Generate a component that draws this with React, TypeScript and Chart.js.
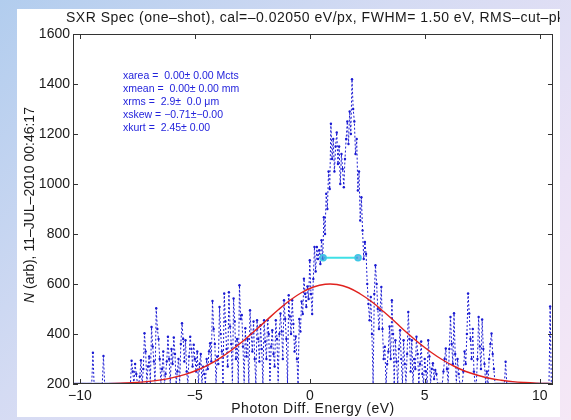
import React, { useEffect, useRef } from "react";
import { Chart, registerables } from "chart.js";

Chart.register(...registerables);

// ---------- data ----------
const X_START = -10.25; // eV of first spectrum sample
const X_STEP = 0.051; // eV per sample

// N (arb) per sample (one row ~ 1 eV)
const SPECTRUM: number[] = [
  200, 200, 200, 200,
  200, 200, 200, 200, 200, 200, 200, 200, 200, 200, 200, 200, 325, 200, 200, 200, 200, 200, 200, 200,
  200, 312, 200, 200, 200, 200, 200, 200, 200, 200, 200, 200, 200, 200, 200, 200, 200, 200, 200, 200,
  200, 200, 200, 200, 200, 293, 250, 200, 280, 240, 200, 200, 230, 295, 200, 260, 403, 330, 200, 270,
  310, 200, 428, 350, 290, 200, 503, 420, 380, 300, 200, 260, 330, 200, 240, 290, 389, 300, 200, 340,
  280, 386, 320, 200, 250, 300, 200, 360, 443, 380, 290, 375, 250, 200, 310, 389, 340, 270, 357, 300,
  250, 330, 200, 280, 320, 200, 269, 240, 200, 300, 260, 330, 363, 290, 532, 420, 360, 200, 310, 280,
  508, 400, 330, 200, 562, 450, 340, 270, 567, 430, 360, 200, 542, 450, 300, 380, 200, 595, 460, 476,
  350, 200, 423, 310, 380, 200, 495, 400, 330, 450, 300, 200, 455, 380, 290, 435, 340, 200, 455, 370,
  300, 455, 400, 200, 350, 415, 320, 270, 455, 380, 200, 400, 482, 410, 300, 535, 460, 380, 200, 555,
  470, 400, 535, 440, 330, 390, 300, 200, 460, 410, 530, 480, 621, 560, 508, 590, 540, 695, 560, 480,
  620, 748, 650, 748, 700, 735, 680, 775, 700, 867, 800, 961, 900, 1050, 980, 1241, 1100, 1180, 1050, 1150,
  1206, 1080, 1150, 1000, 1120, 1060, 987, 1100, 1180, 1250, 1160, 1290, 1200, 1419, 1300, 1250, 1120, 1180, 974, 1050,
  854, 947, 814, 700, 768, 720, 600, 520, 455, 548, 400, 200, 560, 675, 600, 500, 420, 495, 588, 420,
  300, 349, 200, 280, 330, 430, 300, 535, 400, 200, 375, 290, 200, 340, 415, 300, 200, 375, 280, 200,
  320, 488, 380, 250, 375, 200, 300, 260, 389, 320, 200, 280, 370, 240, 200, 300, 250, 200, 375, 310,
  200, 260, 283, 220, 256, 240, 200, 200, 200, 200, 200, 250, 300, 342, 260, 200, 340, 468, 360, 280,
  483, 320, 200, 300, 240, 200, 200, 200, 250, 330, 280, 400, 562, 482, 380, 300, 420, 250, 200, 200,
  300, 468, 350, 260, 458, 340, 280, 200, 250, 200, 300, 360, 402, 320, 260, 200, 200, 200, 200, 200,
  200, 200, 200, 200, 289, 200, 200, 200, 200, 200, 200, 200, 200, 200, 200, 200, 200, 200, 200, 200,
  200, 200, 200, 200, 200, 200, 200, 200, 200, 200, 200, 200, 200, 200, 200, 200, 200, 200, 200, 200,
  200, 200, 510, 200, 200, 200, 200, 200, 200, 200, 200,
];

// red fit curve, sampled every FIT_STEP eV
const FIT_START = -10.55;
const FIT_STEP = 0.51;
const FIT: number[] = [
  200.2, 200.3, 200.7, 201.2, 202.2, 203.8, 206.4, 210.4, 216.5, 225.3, 237.5, 254, 275.7, 302.7, 335,
  372, 413, 455, 497, 535, 566, 588, 599, 598, 585, 560, 528, 489, 447, 404, 364, 328, 297, 271, 250,
  235, 223, 215, 209.4, 205.8, 203.4, 202, 201.1,
];

// FWHM marker
const FWHM_X: number[] = [0.58, 2.1];
const FWHM_Y: number[] = [705, 705];

const X_TICKS: number[] = [-10, -5, 0, 5, 10];
const Y_TICKS: number[] = [200, 400, 600, 800, 1000, 1200, 1400, 1600];

const TITLE = "SXR Spec (one\u2013shot), cal=\u20130.02050 eV/px, FWHM= 1.50 eV, RMS\u2013cut\u2013pk";
const X_LABEL = "Photon Diff. Energy (eV)";
const Y_LABEL_ITALIC = "N";
const Y_LABEL_REST = " (arb), 11\u2013JUL\u20132010 00:46:17";
const STATS: string[] = [
  "xarea =  0.00\u00b1 0.00 Mcts",
  "xmean =  0.00\u00b1 0.00 mm",
  "xrms =  2.9\u00b1  0.0 \u03bcm",
  "xskew = \u22120.71\u00b1\u22120.00",
  "xkurt =  2.45\u00b1 0.00",
];

const FONT = '"Liberation Sans", Arial, Helvetica, sans-serif';

const decor = {
  id: "decor",
  afterDatasetsDraw(chart: any) {
    const { ctx, chartArea: a, scales } = chart;
    ctx.save();
    ctx.strokeStyle = "#333";
    ctx.lineWidth = 1;
    ctx.strokeRect(a.left + 0.5, a.top + 0.5, a.right - a.left - 1, a.bottom - a.top - 1);
    const tl = 5;
    ctx.beginPath();
    X_TICKS.forEach((v) => {
      const x = Math.round(scales.x.getPixelForValue(v)) + 0.5;
      ctx.moveTo(x, a.bottom);
      ctx.lineTo(x, a.bottom - tl);
      ctx.moveTo(x, a.top);
      ctx.lineTo(x, a.top + tl);
    });
    Y_TICKS.forEach((v) => {
      const y = Math.round(scales.y.getPixelForValue(v)) + 0.5;
      ctx.moveTo(a.left, y);
      ctx.lineTo(a.left + tl, y);
      ctx.moveTo(a.right, y);
      ctx.lineTo(a.right - tl, y);
    });
    ctx.stroke();

    ctx.fillStyle = "#2424dc";
    ctx.font = `10.5px ${FONT}`;
    ctx.textBaseline = "middle";
    ctx.textAlign = "left";
    STATS.forEach((s, i) => ctx.fillText(s, 123, 76 + 13 * i));
    ctx.restore();
  },
  afterDraw(chart: any) {
    const { ctx } = chart;
    ctx.save();
    ctx.beginPath();
    ctx.rect(17, 9, 543, 408);
    ctx.clip();
    ctx.fillStyle = "#1a1a1a";
    ctx.textBaseline = "middle";
    ctx.textAlign = "left";
    ctx.font = `14px ${FONT}`;
    (ctx as any).letterSpacing = "0.5px";
    ctx.fillText(TITLE, 66, 18);

    ctx.textAlign = "center";
    ctx.fillText(X_LABEL, 313, 409);
    (ctx as any).letterSpacing = "0px";

    ctx.translate(30, 205);
    ctx.rotate(-Math.PI / 2);
    ctx.textAlign = "left";
    ctx.font = `italic 14px ${FONT}`;
    const w1 = ctx.measureText(Y_LABEL_ITALIC).width;
    ctx.font = `14px ${FONT}`;
    const w2 = ctx.measureText(Y_LABEL_REST).width;
    const x0 = -(w1 + w2) / 2;
    ctx.font = `italic 14px ${FONT}`;
    ctx.fillText(Y_LABEL_ITALIC, x0, 0);
    ctx.font = `14px ${FONT}`;
    ctx.fillText(Y_LABEL_REST, x0 + w1, 0);
    ctx.restore();
  },
};

export default function App() {
  const ref = useRef<HTMLCanvasElement>(null);
  useEffect(() => {
    const spectrum = SPECTRUM.map((y, i) => ({ x: X_START + i * X_STEP, y }));
    const fit = FIT.map((y, i) => ({ x: FIT_START + i * FIT_STEP, y }));
    const fwhm = FWHM_X.map((x, i) => ({ x, y: FWHM_Y[i] }));
    const blue = "#1a1ad2";
    const chart = new Chart(ref.current as HTMLCanvasElement, {
      type: "line",
      data: {
        datasets: [
          {
            data: fwhm,
            order: 0,
            borderColor: "#3fe0e6",
            borderWidth: 2,
            pointRadius: 3,
            pointBorderColor: "#3fc8e6",
            pointBackgroundColor: "rgba(60,150,220,0.7)",
            pointBorderWidth: 1.5,
          },
          {
            data: fit,
            order: 1,
            borderColor: "#e0221e",
            borderWidth: 1.4,
            pointRadius: 0,
            tension: 0.4,
          },
          {
            data: spectrum,
            order: 2,
            borderColor: blue,
            borderWidth: 1,
            borderDash: [2, 2],
            pointRadius: 1.2,
            pointBorderWidth: 0,
            pointBackgroundColor: blue,
            tension: 0,
          },
        ],
      } as any,
      options: {
        responsive: false,
        animation: false,
        devicePixelRatio: 1,
        layout: { padding: { left: 0, right: 18, top: 34, bottom: 0 } },
        plugins: { legend: { display: false }, tooltip: { enabled: false }, title: { display: false } },
        scales: {
          x: {
            type: "linear",
            min: -10.3,
            max: 10.58,
            grid: { display: false, drawTicks: false },
            border: { display: false },
            afterBuildTicks: (s: any) => {
              s.ticks = X_TICKS.map((v) => ({ value: v }));
            },
            afterFit: (s: any) => {
              s.height = 36;
            },
            ticks: {
              padding: 4,
              maxRotation: 0,
              autoSkip: false,
              color: "#1a1a1a",
              font: { family: FONT, size: 14 },
              callback: (v: any) => (Number(v) < 0 ? "\u2212" + Math.abs(Number(v)) : String(v)),
            },
          },
          y: {
            type: "linear",
            min: 200,
            max: 1600,
            grid: { display: false, drawTicks: false },
            border: { display: false },
            afterBuildTicks: (s: any) => {
              s.ticks = Y_TICKS.map((v) => ({ value: v }));
            },
            afterFit: (s: any) => {
              s.width = 73;
            },
            ticks: {
              padding: 3,
              autoSkip: false,
              color: "#1a1a1a",
              font: { family: FONT, size: 14 },
              callback: (v: any) => String(v),
            },
          },
        },
      } as any,
      plugins: [decor],
    });
    return () => chart.destroy();
  }, []);

  return (
    <div
      style={{
        position: "absolute",
        left: 0,
        top: 0,
        width: 571,
        height: 420,
        overflow: "hidden",
        background: "linear-gradient(135deg, #b2cdee 0%, #d4dbf3 40%, #ebe2f6 75%, #f5e8f6 100%)",
      }}
    >
      <div style={{ position: "absolute", left: 17, top: 9, width: 543, height: 408, background: "#ffffff" }} />
      <canvas
        ref={ref}
        width={571}
        height={420}
        style={{ position: "absolute", left: 0, top: 0, width: 571, height: 420 }}
      />
    </div>
  );
}
